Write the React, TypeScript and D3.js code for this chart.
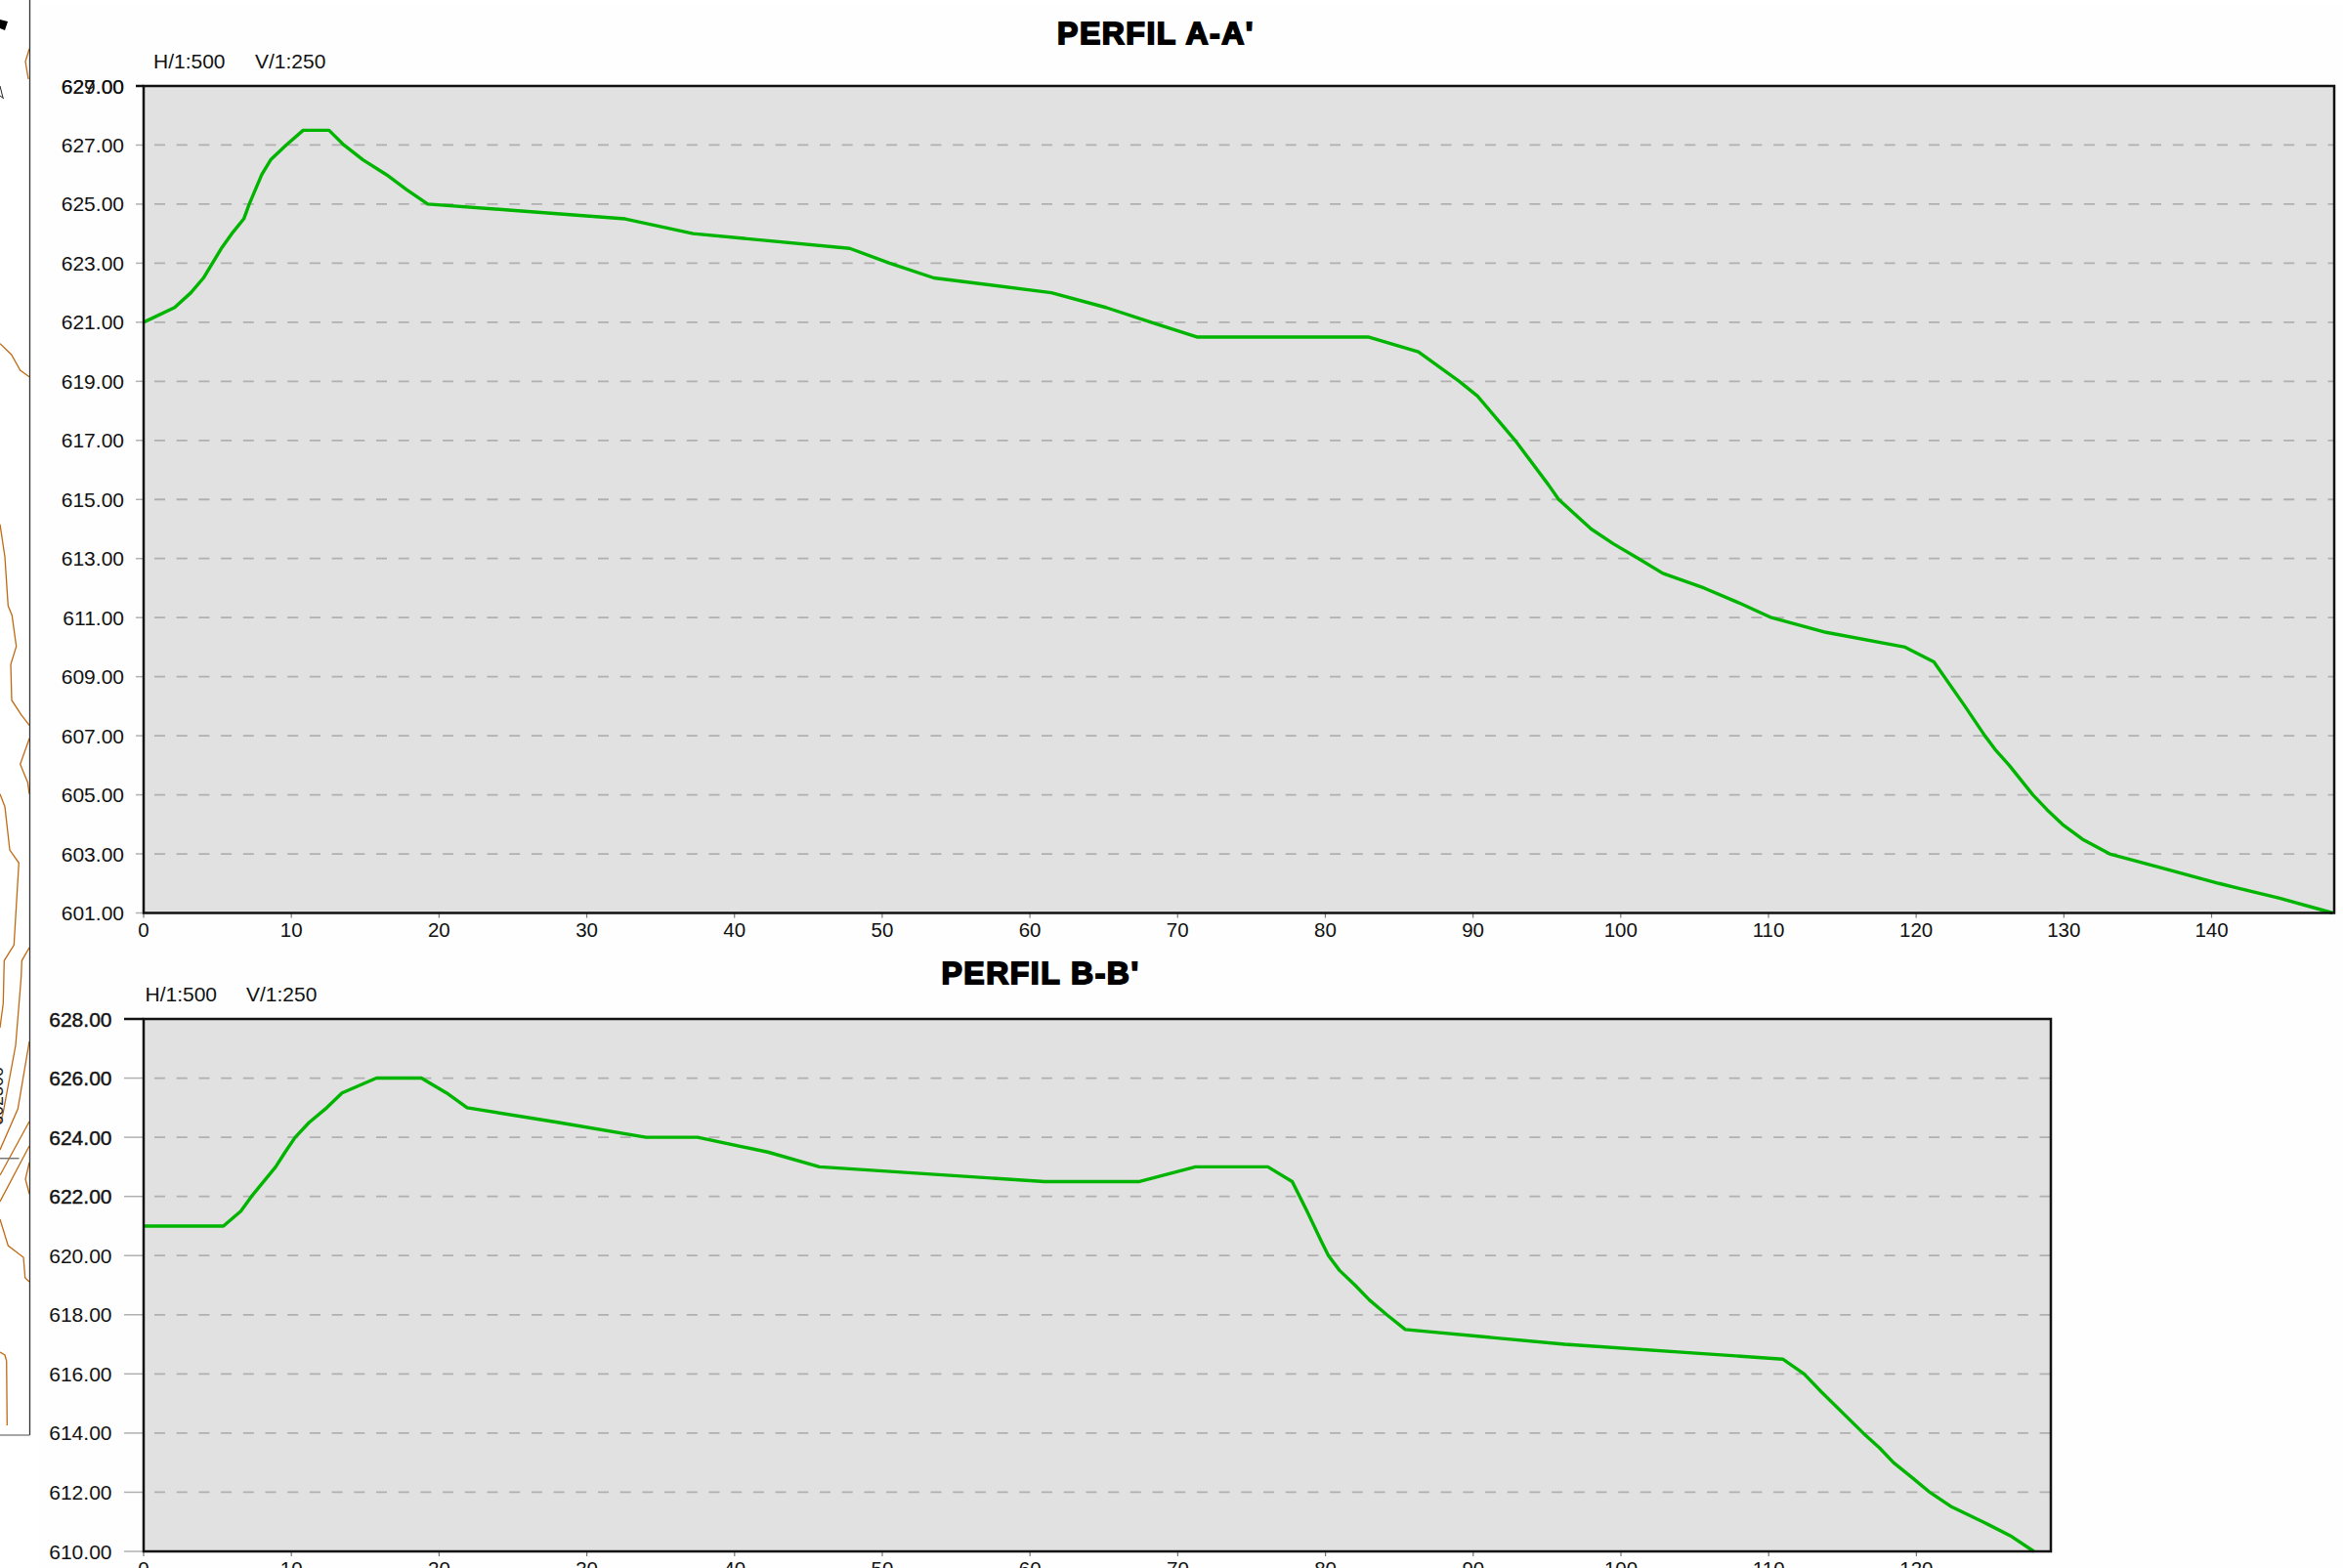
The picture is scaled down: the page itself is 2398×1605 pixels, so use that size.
import React from "react";
import * as d3 from "d3";

const WIDTH = 2398;
const HEIGHT = 1605;

const stationA = [0,2.1,3.2,4.05,5.26,5.97,6.78,7.15,8,8.6,9.65,10.8,12.55,13.56,14.85,16.43,17.78,19.23,24.7,32.6,37.2,47.8,50.5,53.5,61.45,65.15,68.2,71.3,78,82.9,86.3,89.07,90.3,92,92.85,95.1,95.8,98,99.5,101.2,102.85,105.65,108,110.2,113.9,119.25,121.2,123.3,124.65,125.4,126.3,127.9,128.85,129.9,131.25,133.1,136.8,140.5,144.6,148.2];
const elevationA = [621,621.5,622,622.5,623.5,624,624.5,625,626,626.5,627,627.5,627.5,627,626.5,626,625.5,625,624.8,624.5,624,623.5,623,622.5,622,621.5,621,620.5,620.5,620.5,620,619,618.5,617.5,617,615.5,615,614,613.5,613,612.5,612,611.5,611,610.5,610,609.5,608,607,606.5,606,605,604.5,604,603.5,603,602.5,602,601.5,601];

const stationB = [0,5.4,6.58,7.3,8.94,9.58,10.26,11.2,12.4,13.43,15.76,18.8,20.5,21.9,28.1,34,37.5,42.25,45.75,61,67.35,71.2,76.1,77.75,78.75,79.7,80.2,80.95,82,82.97,84.15,85.4,96.2,110.95,112.4,113.55,116.4,117.5,118.45,119.7,120.9,122.4,124.5,126.45,127.95];
const elevationB = [621,621,621.5,622,623,623.5,624,624.5,625,625.5,626,626,625.5,625,624.5,624,624,623.5,623,622.5,622.5,623,623,622.5,621.5,620.5,620,619.5,619,618.5,618,617.5,617,616.5,616,615.4,614,613.5,613,612.5,612,611.5,611,610.5,610];

const yTicksA = [601,603,605,607,609,611,613,615,617,619,621,623,625,627,629];
const yTicksB = [610,612,614,616,618,620,622,624,626,628];
const xTicksA = [0,10,20,30,40,50,60,70,80,90,100,110,120,130,140];
const xTicksB = [0,10,20,30,40,50,60,70,80,90,100,110,120];
const boldTicksB = [622,624,626,628];

const contourOne = [[0,351.7],[11.7,363],[20.7,379],[30,385.7]];
const contourTwo = [[0,536.7],[5,570],[8.3,620],[12.3,630],[16.7,661.7],[11,680],[12,716.7],[21.7,731.7],[30,742.3]];
const contourThree = [[30,756],[20.7,782.3],[28.3,800.7],[30,812.7]];
const contourFour = [[0,812.7],[5,825.7],[10,870],[19.3,883.3],[14.3,967.3],[4.3,983.3],[3.3,1027],[0,1052]];
const contourFive = [[30,970],[22.3,983.3],[21.7,1000],[16,1070],[3,1140],[0,1150]];
const contourSix = [[30,1066],[18.3,1135],[0,1177]];
const contourSeven = [[30,1148],[0,1203]];
const contourEight = [[30,1173],[0,1230]];
const contourNine = [[30,1190],[26,1207],[30,1222]];
const contourTen = [[0,1248],[8.3,1275],[24,1287],[25.7,1308],[30,1312]];
const contourEleven = [[0,1384],[5,1387],[6.7,1393],[7.3,1459]];
const contourTop = [[30,50],[26,63],[29,81]];
const contours = [contourOne,contourTwo,contourThree,contourFour,contourFive,contourSix,contourSeven,contourEight,contourNine,contourTen,contourEleven,contourTop];

const mapX = d3.scaleLinear().domain([0, 1]).range([0, 1]);
const mapY = d3.scaleLinear().domain([0, 1]).range([0, 1]);
const contourLine = d3.line<number[]>().x((p) => mapX(p[0])).y((p) => mapY(p[1]));

const FONT = "'Liberation Sans', Arial, sans-serif";
const GREEN = "#00b400";

function Profile(props: {
  title: string; titleX: number; titleY: number;
  stations: number[]; elevations: number[];
  xTicks: number[]; yTicks: number[];
  xMax: number; yMin: number; yMax: number;
  left: number; right: number; top: number; bottom: number;
  tickStart: number; labelEnd: number;
  scaleH: number; scaleV: number; scaleY: number;
  strongTicks: number[]; ghostLabel?: string;
}) {
  const p = props;
  const x = d3.scaleLinear().domain([0, p.xMax]).range([p.left, p.right]);
  const y = d3.scaleLinear().domain([p.yMin, p.yMax]).range([p.bottom, p.top]);
  const pts = p.stations.map((s, i) => [s, p.elevations[i]]);
  const line = d3.line<number[]>().x((d) => x(d[0])).y((d) => y(d[1]));
  return (
    <g fontFamily={FONT} fill="#111">
      <text x={p.titleX} y={p.titleY} textAnchor="middle" fontSize={32} fontWeight={700}
        stroke="#000" strokeWidth={1.8} letterSpacing={1.5} fill="#000">{p.title}</text>
      <text x={p.scaleH} y={p.scaleY} fontSize={21}>H/1:500</text>
      <text x={p.scaleV} y={p.scaleY} fontSize={21}>V/1:250</text>
      <rect x={p.left} y={p.top} width={p.right - p.left} height={p.bottom - p.top} fill="#e1e1e1" />
      {p.yTicks.map((t) => (
        <g key={t}>
          {t !== p.yMin && t !== p.yMax && (
            <line x1={p.left + 11} x2={p.right - 1} y1={y(t)} y2={y(t)} stroke="#b0b0b0" strokeWidth={1.8} strokeDasharray="11 11.7" />
          )}
          <line x1={p.tickStart} x2={p.left} y1={y(t)} y2={y(t)}
            stroke={t === p.yMax ? "#111" : "#b0b0b0"} strokeWidth={t === p.yMax ? 2.5 : 1.5} />
          <text x={p.labelEnd} y={y(t) + 7.5} textAnchor="end" fontSize={21}
            stroke={p.strongTicks.includes(t) ? "#111" : "none"} strokeWidth={0.4}>{t.toFixed(2)}</text>
        </g>
      ))}
      {p.ghostLabel && (
        <text x={p.labelEnd} y={y(p.yMax) + 7.5} textAnchor="end" fontSize={21}>{p.ghostLabel}</text>
      )}
      {p.xTicks.map((t) => (
        <g key={t}>
          <line x1={x(t)} x2={x(t)} y1={p.bottom} y2={p.bottom + 5} stroke="#777" strokeWidth={1.2} />
          <text x={x(t)} y={p.bottom + 24.5} textAnchor="middle" fontSize={20.5}>{t}</text>
        </g>
      ))}
      <path d={line(pts) ?? ""} fill="none" stroke={GREEN} strokeWidth={3.4} strokeLinejoin="round" />
      <rect x={p.left} y={p.top} width={p.right - p.left} height={p.bottom - p.top} fill="none" stroke="#111" strokeWidth={2.5} />
    </g>
  );
}

export default function App() {
  return (
    <svg width={WIDTH} height={HEIGHT} viewBox={`0 0 ${WIDTH} ${HEIGHT}`}
      style={{ position: "absolute", left: 0, top: 0, display: "block", background: "#fff" }}>
      <rect x={41} y={5} width={WIDTH - 41} height={HEIGHT - 5} fill="#fefefe" />
      {contours.map((c, i) => (
        <path key={i} d={contourLine(c as number[][]) ?? ""} fill="none" stroke="#c06a14" strokeWidth={1.3} />
      ))}
      <path d="M0,20 L8,22 L5,31 L0,29 Z" fill="#000" />
      <path d="M0,88 L3,100 M0,98 L4,101" fill="none" stroke="#222" strokeWidth={1} />
      <text x={3} y={1152} transform="rotate(-90 3 1152)" fontSize={18} fontFamily={FONT} fill="#222">602300</text>
      <line x1={0} x2={19.5} y1={1185.7} y2={1185.7} stroke="#777" strokeWidth={1.5} />
      <line x1={30.5} x2={30.5} y1={0} y2={1469} stroke="#333" strokeWidth={1.3} />
      <line x1={0} x2={30.5} y1={1469} y2={1469} stroke="#777" strokeWidth={1.3} />
      <Profile title="PERFIL A-A'" titleX={1183} titleY={45}
        stations={stationA} elevations={elevationA} xTicks={xTicksA} yTicks={yTicksA}
        xMax={148.3} yMin={601} yMax={629}
        left={147} right={2389} top={88} bottom={934.5} tickStart={139} labelEnd={127}
        scaleH={157} scaleV={261} scaleY={70} strongTicks={[]} ghostLabel="627.00" />
      <Profile title="PERFIL B-B'" titleX={1065} titleY={1007}
        stations={stationB} elevations={elevationB} xTicks={xTicksB} yTicks={yTicksB}
        xMax={129.1} yMin={610} yMax={628}
        left={147} right={2099} top={1043} bottom={1588} tickStart={127} labelEnd={114.5}
        scaleH={148.5} scaleV={252} scaleY={1025} strongTicks={boldTicksB} />
    </svg>
  );
}
